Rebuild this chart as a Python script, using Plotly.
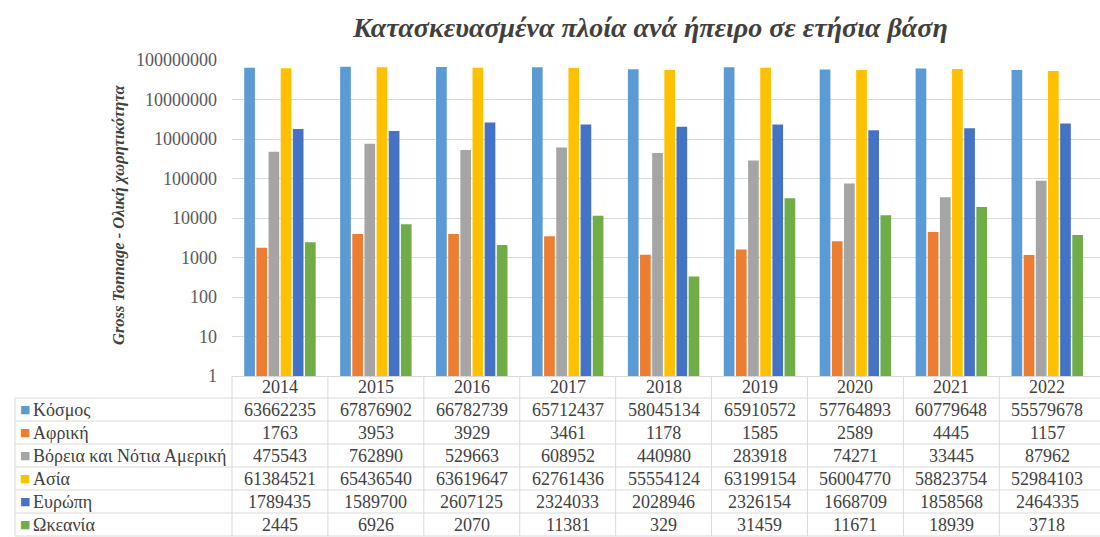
import plotly.graph_objects as go

# Annual gross tonnage of ships built, by continent
years = ["2014", "2015", "2016", "2017", "2018", "2019", "2020", "2021", "2022"]
series_names = ["Κόσμος", "Αφρική", "Βόρεια και Νότια Αμερική", "Ασία", "Ευρώπη", "Ωκεανία"]
kosmos = [63662235, 67876902, 66782739, 65712437, 58045134, 65910572, 57764893, 60779648, 55579678]
afriki = [1763, 3953, 3929, 3461, 1178, 1585, 2589, 4445, 1157]
amerikh = [475543, 762890, 529663, 608952, 440980, 283918, 74271, 33445, 87962]
asia = [61384521, 65436540, 63619647, 62761436, 55554124, 63199154, 56004770, 58823754, 52984103]
evropi = [1789435, 1589700, 2607125, 2324033, 2028946, 2326154, 1668709, 1858568, 2464335]
okeania = [2445, 6926, 2070, 11381, 329, 31459, 11671, 18939, 3718]
colors = ["#5B9BD5", "#ED7D31", "#A5A5A5", "#FFC000", "#4472C4", "#70AD47"]
y_ticks = [1, 10, 100, 1000, 10000, 100000, 1000000, 10000000, 100000000]

series_values = [kosmos, afriki, amerikh, asia, evropi, okeania]

W, H = 1100, 537
PLOT_L, PLOT_T, PLOT_B = 232, 60, 376
SERIF = "Liberation Serif, Times New Roman, serif"
TXT = "#404040"
GRID = "#D9D9D9"
FS = 18


def px(x):
    return x / W


def py(y):
    return 1 - y / H


fig = go.Figure()
for name, vals, col in zip(series_names, series_values, colors):
    fig.add_trace(go.Bar(name=name, x=years, y=vals, marker=dict(color=col, line=dict(width=0))))

shapes = []
annotations = []

# data table under the plot: header row + one row per series
row_top = 398
row_h = 23
n_rows = len(series_names)
table_bottom = row_top + row_h * n_rows

# horizontal rules
for r in range(0, n_rows + 1):
    yy = row_top + r * row_h
    shapes.append(dict(type="line", xref="paper", yref="paper", x0=px(15), x1=1.0,
                       y0=py(yy), y1=py(yy), line=dict(color=GRID, width=1)))
# vertical rules
shapes.append(dict(type="line", xref="paper", yref="paper", x0=px(15), x1=px(15),
                   y0=py(row_top), y1=py(table_bottom), line=dict(color=GRID, width=1)))
shapes.append(dict(type="line", xref="paper", yref="paper", x0=px(PLOT_L), x1=px(PLOT_L),
                   y0=py(PLOT_B), y1=py(table_bottom), line=dict(color=GRID, width=1)))
for i in range(1, len(years)):
    shapes.append(dict(type="line", xref="x", yref="paper", x0=i - 0.5, x1=i - 0.5,
                       y0=py(PLOT_B), y1=py(table_bottom), line=dict(color=GRID, width=1)))

# header (years)
for i, yr in enumerate(years):
    annotations.append(dict(x=i, y=py(387), xref="x", yref="paper", text=yr, showarrow=False,
                            font=dict(family=SERIF, size=FS, color=TXT), xanchor="center", yanchor="middle"))

# rows: colour key, series name, values
for r, (name, vals, col) in enumerate(zip(series_names, series_values, colors)):
    yc = row_top + r * row_h + row_h / 2
    annotations.append(dict(x=px(18), y=py(yc), xref="paper", yref="paper",
                            text="■", showarrow=False,
                            font=dict(family="DejaVu Sans", size=11, color=col), xanchor="left", yanchor="middle"))
    annotations.append(dict(x=px(31), y=py(yc), xref="paper", yref="paper",
                            text=name, showarrow=False,
                            font=dict(family=SERIF, size=FS, color=TXT), xanchor="left", yanchor="middle"))
    for i, v in enumerate(vals):
        annotations.append(dict(x=i, y=py(yc), xref="x", yref="paper", text=str(v), showarrow=False,
                                font=dict(family=SERIF, size=FS, color=TXT), xanchor="center", yanchor="middle"))

# title and axis title
annotations.append(dict(x=px(650), y=py(27), xref="paper", yref="paper",
                        text="<b><i>Κατασκευασμένα πλοία ανά ήπειρο σε ετήσια βάση</i></b>", showarrow=False,
                        font=dict(family=SERIF, size=28, color=TXT), xanchor="center", yanchor="middle"))
annotations.append(dict(x=px(118), y=py(215), xref="paper", yref="paper", textangle=-90,
                        text="<b><i>Gross Tonnage - Ολική χωρητικότητα</i></b>", showarrow=False,
                        font=dict(family=SERIF, size=16.5, color=TXT), xanchor="center", yanchor="middle"))

fig.update_layout(
    width=W, height=H,
    margin=dict(l=0, r=0, t=0, b=0, autoexpand=False),
    paper_bgcolor="white", plot_bgcolor="white",
    barmode="group", bargap=0.24, bargroupgap=0.12,
    showlegend=False,
    shapes=shapes, annotations=annotations,
    xaxis=dict(domain=[px(PLOT_L), 1.0], type="category", range=[-0.5, 8.55],
               showticklabels=False, showgrid=False, zeroline=False, automargin=False,
               showline=True, linecolor=GRID, linewidth=1, ticks=""),
    yaxis=dict(domain=[py(PLOT_B), py(PLOT_T)], type="log", range=[0, 8],
               tickvals=y_ticks, ticktext=[str(v) for v in y_ticks],
               tickfont=dict(family=SERIF, size=FS, color="#595959"), automargin=False,
               showgrid=True, gridcolor=GRID, gridwidth=1, zeroline=False,
               showline=False, ticks="", ticklabelstandoff=14),
)

fig.write_html("out.html")
